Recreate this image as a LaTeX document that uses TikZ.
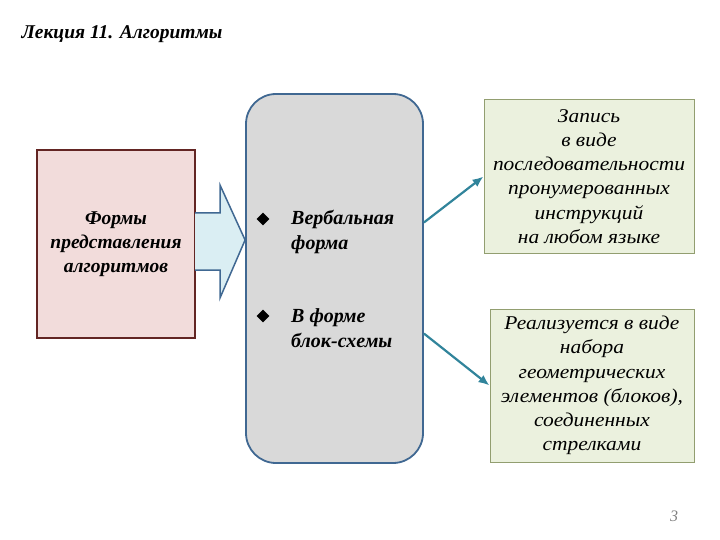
\documentclass[tikz,border=0pt]{standalone}
\usepackage{fontspec}
\setmainfont{Liberation Serif}
\newfontfamily\descfont[FakeStretch=1.1]{Liberation Serif}
\usepackage{tikz}
\usetikzlibrary{shapes,arrows,arrows.meta,positioning}
\definecolor{pinkfill}{RGB}{242, 220, 219}
\definecolor{darkred}{RGB}{99, 37, 35}
\definecolor{lightblue}{RGB}{218, 238, 243}
\definecolor{steel}{RGB}{64, 104, 146}
\definecolor{greyfill}{RGB}{217, 217, 217}
\definecolor{greenfill}{RGB}{235, 241, 222}
\definecolor{olive}{RGB}{146, 158, 112}
\definecolor{teal}{RGB}{49, 132, 155}
\tikzstyle{formbox} = [rectangle, draw=darkred, line width=1.5pt, fill=pinkfill, text=black, align=center, font=\bfseries\itshape\fontsize{19.5}{24}\selectfont, minimum width=158pt, minimum height=188pt]
\tikzstyle{verbalbox} = [rectangle, rounded corners=30pt, draw=steel, line width=1.8pt, fill=greyfill, minimum width=177pt, minimum height=369pt]
\tikzstyle{desc} = [rectangle, draw=olive, line width=1pt, fill=greenfill, text=black, align=center, font=\descfont\itshape\fontsize{19.5}{24.2}\selectfont, minimum height=153pt, inner sep=0pt]
\tikzstyle{bullet} = [diamond, fill=black, inner sep=0pt, minimum size=13pt]
\tikzstyle{item} = [anchor=west, align=left, font=\bfseries\itshape\fontsize{20}{25}\selectfont]
\tikzstyle{link} = [draw=teal, line width=2.2pt, -{Latex[length=11pt, width=9pt]}]

\begin{document}
\begin{tikzpicture}[x=1pt, y=1pt]
\useasboundingbox (0,0) rectangle (720,-540);

% title
\node[anchor=west, font=\bfseries\itshape\fontsize{19.5}{22}\selectfont] (title) at (18,-34) {Лекция 11. Алгоритмы};

% boxes =============================
\node[formbox] (forms) at (116,-244) {Формы\\представления\\алгоритмов};
\node[verbalbox] (verbal) at (334.5,-278.5) {};
\node[desc, minimum width=210pt] (rec1) at (589,-176.5) {Запись\\в виде\\последовательности\\пронумерованных\\инструкций\\на любом языке};
\node[desc, minimum width=204pt] (rec2) at (592,-385.5) {Реализуется в виде\\набора\\геометрических\\элементов (блоков),\\соединенных\\стрелками};

% items
\node[bullet] (b1) at (263,-219) {};
\node[item, right=18pt of b1, yshift=-12.5pt] (verb) {Вербальная\\форма};
\node[bullet] (b2) at (263,-316) {};
\node[item, right=18pt of b2, yshift=-12.5pt] (scheme) {В форме\\блок-схемы};

% block arrow
\draw[draw=steel, line width=1.5pt, fill=lightblue]
  (195,-213) -- (220,-213) -- (220,-185) -- (verbal.west |- 0,-240) -- (220,-298) -- (220,-270) -- (195,-270);

%edges
\path[link] ([yshift=56pt]verbal.east) -- (rec1.west);
\path[link] ([yshift=-55pt]verbal.east) -- (rec2.west);

% page number
\node[text=gray, font=\itshape\fontsize{16}{18}\selectfont] (page) at (674,-516) {3};

\end{tikzpicture}
\end{document}
